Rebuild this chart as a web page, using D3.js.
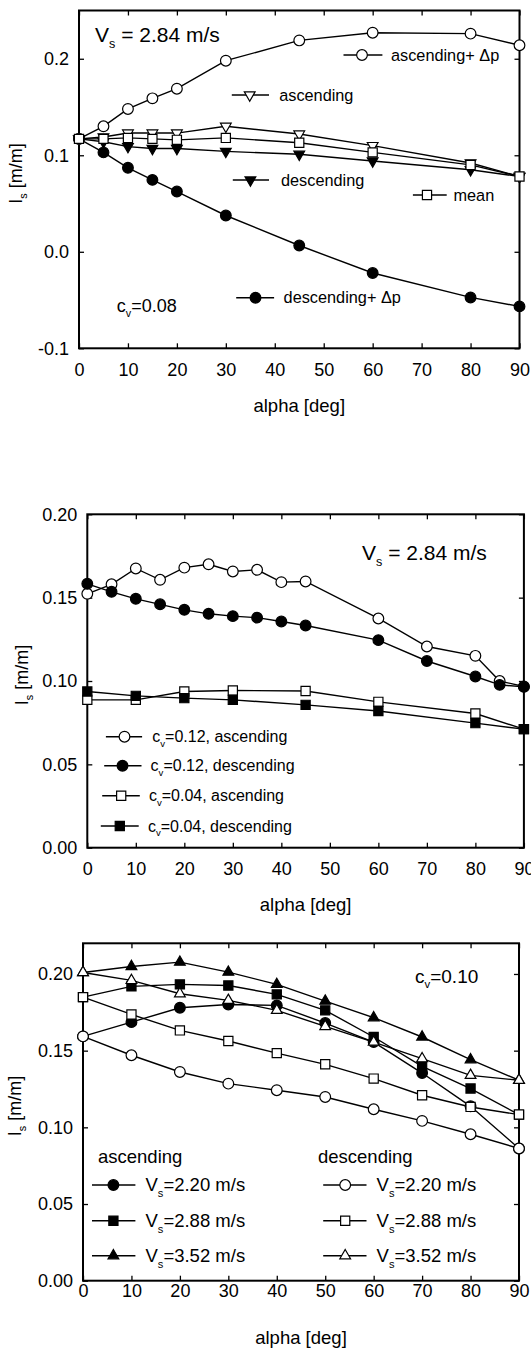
<!DOCTYPE html>
<html>
<head>
<meta charset="utf-8">
<script src="https://cdn.jsdelivr.net/npm/d3@7"></script>
<style>
  body { margin: 0; background: #fff; }
  svg { display: block; font-family: "Liberation Sans", Arial, sans-serif; }
  text { white-space: pre; }
</style>
</head>
<body>
<svg id="svg"></svg>
<script>
// top panel: Vs = 2.84 m/s, cv = 0.08
const alpha1 = [0, 5, 10, 15, 20, 30, 45, 60, 80, 90];
const ascDp1 = [0.117, 0.130, 0.148, 0.159, 0.169, 0.198, 0.219, 0.227, 0.226, 0.214];
const asc1 = [0.117, 0.119, 0.123, 0.123, 0.123, 0.130, 0.122, 0.110, 0.092, 0.078];
const mean1 = [0.117, 0.117, 0.118, 0.117, 0.116, 0.118, 0.113, 0.103, 0.090, 0.078];
const desc1 = [0.117, 0.114, 0.109, 0.107, 0.107, 0.104, 0.101, 0.094, 0.085, 0.078];
const descDp1 = [0.117, 0.103, 0.087, 0.0745, 0.0624, 0.0376, 0.0065, -0.022, -0.0473, -0.0566];
const yTicks1 = [-0.1, 0.0, 0.1, 0.2];

// middle panel: Vs = 2.84 m/s, two concentrations
const alpha2a = [0, 5, 10, 15, 20, 25, 30, 35, 40, 45, 60, 70, 80, 85, 90];
const asc012 = [0.1523, 0.158, 0.1675, 0.1607, 0.168, 0.170, 0.1657, 0.1667, 0.1593, 0.1597, 0.1375, 0.1207, 0.1151, 0.100, 0.0967];
const desc012 = [0.1583, 0.1535, 0.1493, 0.146, 0.1427, 0.1403, 0.1389, 0.138, 0.1357, 0.1333, 0.1245, 0.112, 0.1027, 0.0977, 0.0965];
const alpha2b = [0, 10, 20, 30, 45, 60, 80, 90];
const asc004 = [0.0887, 0.0887, 0.0937, 0.0943, 0.094, 0.0875, 0.0805, 0.0711];
const desc004 = [0.0937, 0.0911, 0.0897, 0.0887, 0.0857, 0.082, 0.0747, 0.0711];
const yTicks2 = [0, 0.05, 0.10, 0.15, 0.20];

// bottom panel: cv = 0.10, three velocities
const alpha3 = [0, 10, 20, 30, 40, 50, 60, 70, 80, 90];
const asc220 = [0.1593, 0.1686, 0.178, 0.1801, 0.1795, 0.168, 0.1556, 0.1354, 0.1137, 0.0862];
const asc288 = [0.1849, 0.1919, 0.1932, 0.1925, 0.1867, 0.1763, 0.1589, 0.1398, 0.1253, 0.1083];
const asc352 = [0.201, 0.2049, 0.2077, 0.2012, 0.1932, 0.1823, 0.1715, 0.1589, 0.1441, 0.1307];
const desc220 = [0.1593, 0.147, 0.1361, 0.1285, 0.1242, 0.1198, 0.1118, 0.1042, 0.0955, 0.0862];
const desc288 = [0.1849, 0.1736, 0.1632, 0.1563, 0.1484, 0.1411, 0.1318, 0.1209, 0.1133, 0.1083];
const desc352 = [0.201, 0.1958, 0.1871, 0.1828, 0.1763, 0.1658, 0.1556, 0.1448, 0.1339, 0.1307];
const yTicks3 = [0, 0.05, 0.10, 0.15, 0.20];

const xTicks = d3.range(0, 91, 10);

const svg = d3.select("#svg")
    .attr("width", 531)
    .attr("height", 1351);

const SHAPES = {
    circle: d3.symbol(d3.symbolCircle, 90),
    square: d3.symbol(d3.symbolSquare, 84),
    triangle: d3.symbol(d3.symbolTriangle, 50)
};

// text with subscripts: parts = [[string, isSub], ...]
function richText(g, x, y, parts, size, anchor) {
    const t = g.append("text")
        .attr("x", x)
        .attr("y", y)
        .attr("text-anchor", anchor || "start")
        .style("font-size", size + "px")
        .attr("fill", "#000");
    let shift = 0;
    parts.forEach(([s, sub]) => {
        const target = sub ? size * 0.3 : 0;
        t.append("tspan")
            .attr("dy", target - shift)
            .style("font-size", (sub ? size * 0.6 : size) + "px")
            .text(s);
        shift = target;
    });
    return t;
}

function marker(g, cx, cy, s) {
    g.append("path")
        .attr("transform", `translate(${cx},${cy})${s.down ? " rotate(180)" : ""}`)
        .attr("d", SHAPES[s.shape]())
        .attr("fill", s.filled ? "#000" : "#fff")
        .attr("stroke", "#000")
        .attr("stroke-width", 1.2);
}

function drawPanel(p) {
    const g = svg.append("g");
    const x = d3.scaleLinear().domain([0, 90]).range([p.left, p.right]);
    const y = d3.scaleLinear().domain(p.yDomain).range([p.bottom, p.top]);
    const fmt = v => d3.format(p.yFormat)(v).replace("\u2212", "-");

    g.append("g")
        .attr("transform", `translate(0,${p.bottom})`)
        .call(d3.axisBottom(x).tickValues(xTicks).tickSize(-5).tickPadding(p.xPad).tickFormat(d3.format("d")));
    g.append("g")
        .attr("transform", `translate(0,${p.top})`)
        .call(d3.axisTop(x).tickValues(xTicks).tickSize(-5).tickFormat(""));
    g.append("g")
        .attr("transform", `translate(${p.left},0)`)
        .call(d3.axisLeft(y).tickValues(p.yTicks).tickSize(-5).tickPadding(10).tickFormat(fmt));
    g.append("g")
        .attr("transform", `translate(${p.right},0)`)
        .call(d3.axisRight(y).tickValues(p.yTicks).tickSize(-5).tickFormat(""));

    g.selectAll(".domain").remove();
    g.selectAll(".tick line").attr("stroke", "#000").attr("stroke-width", 1.3);
    g.selectAll(".tick text")
        .attr("fill", "#000")
        .style("font-size", "18px")
        .style("font-family", "'Liberation Sans', Arial, sans-serif");

    g.append("rect")
        .attr("x", p.left)
        .attr("y", p.top)
        .attr("width", p.right - p.left)
        .attr("height", p.bottom - p.top)
        .attr("fill", "none")
        .attr("stroke", "#000")
        .attr("stroke-width", 2);

    const line = d3.line().x(d => x(d[0])).y(d => y(d[1]));
    p.series.forEach(s => {
        const pts = s.x.map((a, i) => [a, s.y[i]]);
        g.append("path")
            .datum(pts)
            .attr("d", line)
            .attr("fill", "none")
            .attr("stroke", "#000")
            .attr("stroke-width", 1.4);
        pts.forEach(d => marker(g, x(d[0]), y(d[1]), s));
    });

    // legend entries
    p.legend.forEach(l => {
        g.append("line")
            .attr("x1", l.x1).attr("x2", l.x2)
            .attr("y1", l.y).attr("y2", l.y)
            .attr("stroke", "#000")
            .attr("stroke-width", 1.4);
        marker(g, l.mx, l.y, l.s);
        richText(g, l.tx, l.y + l.size * 0.35, l.label, l.size);
    });

    p.notes.forEach(n => richText(g, n.x, n.y, n.parts, n.size));

    // axis titles
    richText(g, (p.left + p.right) / 2, p.bottom + 63.5, [["alpha [deg]", false]], 18.5, "middle");
    richText(g, 0, 0, [["I", false], ["s", true], [" [m/m]", false]], 18, "middle")
        .attr("transform", `translate(${p.yLabelX},${p.yLabelY}) rotate(-90)`);
}

const sCircleOpen = { shape: "circle", filled: false };
const sCircleFill = { shape: "circle", filled: true };
const sSquareOpen = { shape: "square", filled: false };
const sSquareFill = { shape: "square", filled: true };
const sTriUpOpen = { shape: "triangle", filled: false };
const sTriUpFill = { shape: "triangle", filled: true };
const sTriDnOpen = { shape: "triangle", filled: false, down: true };
const sTriDnFill = { shape: "triangle", filled: true, down: true };

drawPanel({
    left: 79, right: 519.5, top: 10.5, bottom: 348.3,
    yDomain: [-0.1, 0.25], yTicks: yTicks1, yFormat: ".1f", xPad: 15,
    yLabelX: 22, yLabelY: 173.5,
    series: [
        Object.assign({ x: alpha1, y: descDp1 }, sCircleFill),
        Object.assign({ x: alpha1, y: desc1 }, sTriDnFill),
        Object.assign({ x: alpha1, y: asc1 }, sTriDnOpen),
        Object.assign({ x: alpha1, y: ascDp1 }, sCircleOpen),
        Object.assign({ x: alpha1, y: mean1 }, sSquareOpen)
    ],
    legend: [
        { x1: 343.5, x2: 382.4, mx: 362, y: 55, tx: 391, size: 16.3, s: sCircleOpen, label: [["ascending+ \u0394p", false]] },
        { x1: 231.8, x2: 269, mx: 249.7, y: 95, tx: 279.2, size: 16.3, s: sTriDnOpen, label: [["ascending", false]] },
        { x1: 232.8, x2: 269, mx: 250.4, y: 180, tx: 281, size: 16.3, s: sTriDnFill, label: [["descending", false]] },
        { x1: 412.9, x2: 446.7, mx: 427, y: 195, tx: 453.5, size: 16.3, s: sSquareOpen, label: [["mean", false]] },
        { x1: 236.2, x2: 274.1, mx: 255.5, y: 297.7, tx: 283.6, size: 16.3, s: sCircleFill, label: [["descending+ \u0394p", false]] }
    ],
    notes: [
        { x: 95, y: 41.7, size: 21, parts: [["V", false], ["s", true], [" = 2.84 m/s", false]] },
        { x: 116.8, y: 311.7, size: 18, parts: [["c", false], ["v", true], ["=0.08", false]] }
    ]
});

drawPanel({
    left: 87.3, right: 523.9, top: 514.3, bottom: 847.7,
    yDomain: [0, 0.20], yTicks: yTicks2, yFormat: ".2f", xPad: 15,
    yLabelX: 28, yLabelY: 675,
    series: [
        Object.assign({ x: alpha2a, y: asc012 }, sCircleOpen),
        Object.assign({ x: alpha2b, y: asc004 }, sSquareOpen),
        Object.assign({ x: alpha2a, y: desc012 }, sCircleFill),
        Object.assign({ x: alpha2b, y: desc004 }, sSquareFill)
    ],
    legend: [
        { x1: 105.9, x2: 142.1, mx: 124.5, y: 736.7, tx: 152.3, size: 16, s: sCircleOpen, label: [["c", false], ["v", true], ["=0.12, ascending", false]] },
        { x1: 104.2, x2: 141.5, mx: 122.5, y: 765.7, tx: 150.6, size: 16, s: sCircleFill, label: [["c", false], ["v", true], ["=0.12, descending", false]] },
        { x1: 102.2, x2: 139.8, mx: 121.2, y: 795.7, tx: 148.9, size: 16, s: sSquareOpen, label: [["c", false], ["v", true], ["=0.04, ascending", false]] },
        { x1: 100.8, x2: 138.7, mx: 119.8, y: 826, tx: 147.9, size: 16, s: sSquareFill, label: [["c", false], ["v", true], ["=0.04, descending", false]] }
    ],
    notes: [
        { x: 362, y: 560, size: 21, parts: [["V", false], ["s", true], [" = 2.84 m/s", false]] }
    ]
});

drawPanel({
    left: 83, right: 519, top: 943.3, bottom: 1280.7,
    yDomain: [0, 0.22], yTicks: yTicks3, yFormat: ".2f", xPad: 4,
    yLabelX: 21, yLabelY: 1106,
    series: [
        Object.assign({ x: alpha3, y: asc220 }, sCircleFill),
        Object.assign({ x: alpha3, y: asc288 }, sSquareFill),
        Object.assign({ x: alpha3, y: asc352 }, sTriUpFill),
        Object.assign({ x: alpha3, y: desc220 }, sCircleOpen),
        Object.assign({ x: alpha3, y: desc288 }, sSquareOpen),
        Object.assign({ x: alpha3, y: desc352 }, sTriUpOpen)
    ],
    legend: [
        { x1: 92, x2: 135.4, mx: 113.4, y: 1185, tx: 145.5, size: 18.5, s: sCircleFill, label: [["V", false], ["s", true], ["=2.20 m/s", false]] },
        { x1: 92, x2: 135.4, mx: 113.4, y: 1220.7, tx: 145.5, size: 18.5, s: sSquareFill, label: [["V", false], ["s", true], ["=2.88 m/s", false]] },
        { x1: 92, x2: 135.4, mx: 113.4, y: 1255.7, tx: 145.5, size: 18.5, s: sTriUpFill, label: [["V", false], ["s", true], ["=3.52 m/s", false]] },
        { x1: 323.2, x2: 366.5, mx: 345.2, y: 1185, tx: 376.6, size: 18.5, s: sCircleOpen, label: [["V", false], ["s", true], ["=2.20 m/s", false]] },
        { x1: 323.2, x2: 366.5, mx: 345.2, y: 1220.7, tx: 376.6, size: 18.5, s: sSquareOpen, label: [["V", false], ["s", true], ["=2.88 m/s", false]] },
        { x1: 323.2, x2: 366.5, mx: 345.2, y: 1255.7, tx: 376.6, size: 18.5, s: sTriUpOpen, label: [["V", false], ["s", true], ["=3.52 m/s", false]] }
    ],
    notes: [
        { x: 415, y: 982.7, size: 19, parts: [["c", false], ["v", true], ["=0.10", false]] },
        { x: 98, y: 1163, size: 18.5, parts: [["ascending", false]] },
        { x: 318, y: 1163, size: 18.5, parts: [["descending", false]] }
    ]
});
</script>
</body>
</html>
